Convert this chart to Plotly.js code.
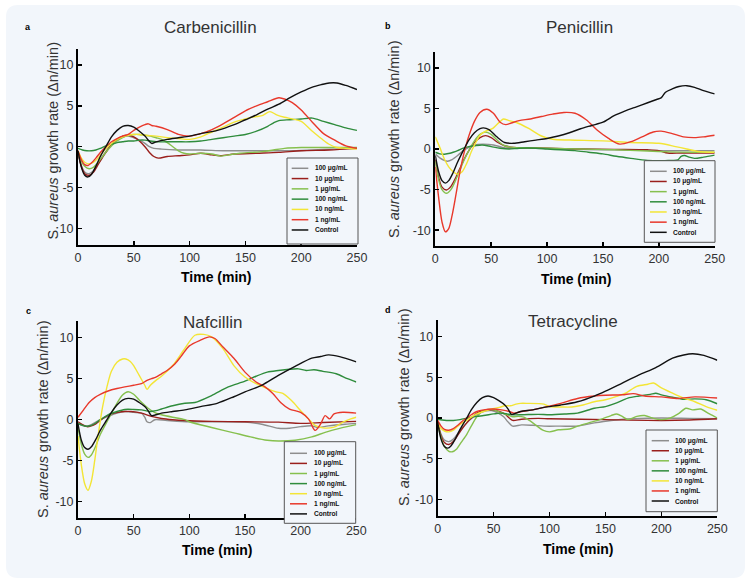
<!DOCTYPE html>
<html><head><meta charset="utf-8">
<script src="https://cdn.plot.ly/plotly-3.0.1.min.js"></script>
<style>html,body{margin:0;padding:0;background:#fff}#chart{width:751px;height:583px}</style>
</head><body><div id="chart"></div>
<script>
// ---------- DATA ----------
const panelTitles = ['Carbenicillin', 'Penicillin', 'Nafcillin', 'Tetracycline'];
const panelLetters = ['a', 'b', 'c', 'd'];
const seriesNames = ['100 μg/mL', '10 μg/mL', '1 μg/mL', '100 ng/mL', '10 ng/mL', '1 ng/mL', 'Control'];
const xTickVals = [0, 50, 100, 150, 200, 250];
const yTickVals = [-10, -5, 0, 5, 10];
const yTickTextA = ['10', '-5', '0', '5', '10'];
const yTickTextStd = ['-10', '-5', '0', '5', '10'];

// Carbenicillin
const carb_ug100_t = [0,3,6,10,14,18,22,26,30,35,40,45,50,55,60,64,68,75,90,110,130,150,170,190,210,230,250];
const carb_ug100_v = [-0.7,-2.3,-3.1,-3.3,-2.9,-2.1,-1.2,-0.4,0.3,0.9,1.2,1.3,1.1,0.8,0.4,0.0,-0.2,-0.3,-0.4,-0.4,-0.5,-0.5,-0.5,-0.5,-0.4,-0.3,-0.2];
const carb_ug10_t = [0,3,6,10,14,18,22,26,30,35,40,45,50,55,60,64,68,72,80,90,100,110,120,128,140,160,180,200,225,250];
const carb_ug10_v = [-0.7,-2.4,-3.3,-3.5,-3.1,-2.2,-1.3,-0.5,0.3,0.9,1.3,1.4,1.2,0.7,0.0,-0.7,-1.2,-1.4,-1.2,-1.1,-1.0,-0.8,-1.0,-1.1,-0.9,-0.8,-0.7,-0.5,-0.4,-0.2];
const carb_ug1_t = [0,3,6,10,14,18,22,26,30,35,40,45,50,55,60,65,70,75,80,85,90,95,100,110,120,128,135,145,155,165,175,185,200,225,250];
const carb_ug1_v = [-0.8,-1.8,-2.4,-2.7,-2.5,-1.9,-1.2,-0.5,0.1,0.7,1.1,1.4,1.5,1.5,1.4,1.3,1.1,0.9,0.5,0.0,-0.5,-0.8,-0.9,-0.8,-0.9,-1.15,-1.0,-0.8,-0.7,-0.6,-0.4,-0.2,-0.1,-0.1,-0.1];
const carb_ng100_t = [0,4,8,12,16,20,25,30,35,40,45,50,55,60,65,70,80,90,100,110,120,130,140,150,160,170,175,180,190,200,210,220,230,240,250];
const carb_ng100_v = [-0.2,-0.4,-0.5,-0.5,-0.4,-0.2,0.1,0.3,0.5,0.6,0.7,0.7,0.8,0.8,0.7,0.6,0.6,0.6,0.6,0.7,0.9,1.1,1.3,1.5,1.9,2.5,2.9,3.2,3.3,3.4,3.5,3.1,2.7,2.3,2.0];
const carb_ng10_t = [0,3,6,10,14,18,22,26,30,35,40,45,50,55,60,70,80,90,100,110,120,130,140,150,160,165,172,178,185,192,200,210,218,225,232,240,250];
const carb_ng10_v = [-0.5,-1.4,-1.9,-2.1,-1.9,-1.4,-0.7,-0.1,0.4,0.9,1.2,1.4,1.5,1.5,1.4,1.3,1.1,1.0,0.9,1.2,1.8,2.4,3.0,3.4,3.7,3.8,4.3,3.9,3.6,3.4,3.1,1.9,1.0,0.3,-0.1,-0.2,-0.3];
const carb_ng1_t = [0,3,6,9,12,16,20,25,30,35,40,45,50,55,60,63,66,70,80,90,100,110,120,130,140,150,160,170,180,186,192,200,210,220,230,240,250];
const carb_ng1_v = [-0.5,-1.6,-2.2,-2.3,-2.0,-1.4,-0.7,0.0,0.6,1.0,1.3,1.5,2.0,2.4,2.7,2.8,2.6,2.5,2.1,1.5,1.3,1.6,2.1,2.8,3.6,4.4,5.0,5.5,6.0,5.8,5.4,4.5,3.0,1.6,0.8,0.1,-0.2];
const carb_ctrl_t = [0,3,6,9,12,16,20,25,30,35,40,45,50,55,60,63,66,70,80,90,100,110,125,140,150,160,170,180,190,200,210,218,225,232,240,250];
const carb_ctrl_v = [-0.5,-2.5,-3.5,-3.7,-3.4,-2.4,-1.2,0.0,1.2,2.0,2.5,2.6,2.4,1.9,1.3,0.8,0.4,0.6,0.9,1.1,1.3,1.6,2.0,2.7,3.3,3.9,4.6,5.2,6.0,6.7,7.3,7.6,7.8,7.8,7.5,7.0];

// Penicillin
const peni_ug100_t = [0,4,8,11,15,20,25,30,35,42,52,60,66,80,95,120,150,180,200,225,250];
const peni_ug100_v = [-0.6,-1.1,-1.4,-1.5,-1.3,-0.8,-0.2,0.2,0.5,0.6,0.5,0.2,0.1,0.1,0.1,0.0,-0.1,-0.1,-0.2,-0.2,-0.2];
const peni_ug10_t = [0,3,6,10,14,18,22,26,30,35,40,45,50,56,62,70,80,100,130,160,190,200,208,220,250];
const peni_ug10_v = [-1.3,-3.5,-4.7,-5.05,-4.6,-3.6,-2.4,-1.2,-0.2,0.8,1.4,1.65,1.4,0.8,0.4,0.2,0.15,0.1,0.0,-0.05,-0.1,-0.2,-0.5,-0.5,-0.5];
const peni_ug1_t = [0,3,6,10,14,18,22,26,30,35,40,45,50,56,62,70,80,100,130,160,190,210,230,250];
const peni_ug1_v = [-1.5,-3.8,-5.0,-5.45,-5.0,-3.9,-2.6,-1.3,-0.2,1.0,1.8,2.1,1.8,1.0,0.4,0.2,0.15,0.1,0.0,-0.1,-0.25,-0.35,-0.4,-0.4];
const peni_ng100_t = [0,4,8,12,16,20,25,30,35,42,50,58,66,75,90,100,112,125,137,150,162,175,190,200,210,217,220,223,227,232,240,250];
const peni_ng100_v = [-0.4,-0.6,-0.65,-0.55,-0.4,-0.2,0.1,0.3,0.4,0.5,0.3,0.1,0.0,0.1,0.1,0.0,-0.1,-0.2,-0.4,-0.6,-0.9,-1.15,-1.4,-1.45,-1.4,-1.35,-0.9,-0.8,-1.0,-1.15,-1.0,-0.75];
const peni_ng10_t = [0,4,8,12,16,20,24,28,33,37,40,45,51,58,61,66,72,84,95,105,120,150,175,200,215,225,235,250];
const peni_ng10_v = [1.5,0.2,-1.2,-2.2,-2.8,-3.1,-2.8,-1.8,-0.1,1.0,1.7,2.2,2.5,3.4,3.7,3.5,3.3,2.5,1.6,1.2,1.1,1.0,0.8,0.7,0.3,0.0,-0.3,-0.4];
const peni_ng1_t = [0,3,6,9,12,15,18,21,24,27,30,35,40,46,52,58,63,68,75,85,95,105,115,125,135,145,155,165,175,185,195,202,212,222,232,240,250];
const peni_ng1_v = [-2.2,-6.0,-9.0,-10.2,-9.8,-8.2,-6.0,-3.6,-1.5,0.2,1.6,3.4,4.5,4.9,4.4,3.3,3.0,3.2,3.5,3.7,4.0,4.3,4.5,4.4,3.6,2.3,1.3,0.6,0.9,1.5,2.1,2.2,1.9,1.5,1.4,1.5,1.7];
const peni_ctrl_t = [0,3,6,9,12,16,20,25,30,35,40,43,48,55,62,70,80,90,100,110,120,130,140,150,160,170,180,190,198,202,206,212,218,225,232,240,250];
const peni_ctrl_v = [-0.8,-2.8,-3.9,-4.2,-3.9,-2.9,-1.6,-0.2,1.1,2.0,2.5,2.6,2.4,1.5,0.8,0.7,0.9,1.1,1.3,1.6,2.0,2.5,2.9,3.3,4.1,4.7,5.2,5.7,6.1,6.3,7.0,7.4,7.7,7.8,7.6,7.2,6.8];

// Nafcillin
const nafc_ug100_t = [0,4,7,12,16,20,27,35,42,50,57,60,62,65,69,80,100,125,150,165,180,190,200,210,215,225,240,250];
const nafc_ug100_v = [-0.45,-0.7,-0.8,-0.6,-0.3,0.0,0.4,0.8,1.0,0.9,0.8,0.3,-0.25,-0.35,0.0,-0.1,-0.25,-0.25,-0.3,-0.55,-1.05,-1.05,-0.85,-0.75,-0.95,-0.75,-0.55,-0.45];
const nafc_ug10_t = [0,4,8,12,16,20,24,30,36,42,48,57,66,75,85,96,120,150,180,200,220,250];
const nafc_ug10_v = [-0.25,-0.6,-0.85,-0.75,-0.5,-0.1,0.3,0.7,0.9,1.0,1.0,0.8,0.4,0.15,0.0,-0.1,-0.2,-0.25,-0.3,-0.45,-0.35,-0.2];
const nafc_ug1_t = [0,3,6,9,12,16,20,27,35,40,45,50,55,63,70,75,85,96,100,120,140,155,170,180,195,210,222,235,250];
const nafc_ug1_v = [-0.9,-3.0,-4.2,-4.6,-4.3,-3.2,-1.8,0.0,2.0,3.0,3.4,3.1,2.4,1.4,0.8,0.6,0.3,0.0,-0.25,-0.95,-1.6,-2.1,-2.5,-2.6,-2.5,-2.1,-1.55,-1.05,-0.6];
const nafc_ng100_t = [0,4,8,12,16,20,27,35,42,50,57,65,70,75,85,96,105,120,135,150,160,170,180,190,198,205,212,220,232,242,250];
const nafc_ng100_v = [-0.45,-0.7,-0.8,-0.7,-0.4,0.0,0.6,1.0,1.25,1.25,1.2,1.0,1.1,1.3,1.7,2.0,2.1,2.95,4.0,4.7,5.3,5.8,6.0,6.15,6.2,6.0,6.1,5.9,5.6,5.0,4.6];
const nafc_ng10_t = [0,3,6,9,12,15,18,22,26,30,35,40,43,47,50,55,60,62,65,70,75,85,95,105,113,120,130,140,150,160,170,178,184,192,200,207,213,220,230,238,245,250];
const nafc_ng10_v = [-2.0,-5.5,-7.8,-8.6,-7.5,-5.0,-2.0,1.5,4.0,5.9,7.0,7.4,7.4,7.1,6.6,5.4,4.2,3.7,4.2,4.8,5.3,6.6,8.5,10.3,10.4,10.1,8.7,6.6,5.2,4.4,3.8,3.4,3.2,2.3,1.1,0.1,-0.7,-1.0,-0.9,-0.3,0.1,0.3];
const nafc_ng1_t = [0,5,10,15,20,27,35,42,50,57,62,66,70,75,80,87,93,100,110,118,123,130,140,150,160,168,175,182,190,200,207,213,218,222,226,230,238,250];
const nafc_ng1_v = [0.3,1.2,2.1,2.7,3.1,3.5,3.8,4.0,4.2,4.4,4.8,5.0,5.2,5.6,6.0,6.8,7.8,9.0,9.7,10.1,9.9,8.9,7.5,5.8,4.6,4.0,3.2,2.1,1.3,0.9,0.1,-1.3,-0.5,0.5,0.1,0.7,0.9,0.8];
const nafc_ctrl_t = [0,3,6,9,12,16,20,26,30,35,40,45,50,55,60,63,66,75,85,96,110,125,140,150,165,180,195,210,218,225,235,250];
const nafc_ctrl_v = [-0.5,-2.5,-3.4,-3.6,-3.3,-2.4,-1.3,0.0,0.9,1.8,2.4,2.6,2.5,2.1,1.6,1.1,0.5,0.8,1.0,1.2,1.6,2.0,2.8,3.4,4.2,5.4,6.5,7.5,7.7,7.9,7.7,7.05];

// Tetracycline
const tetr_ug100_t = [0,3,6,10,14,18,22,26,30,35,41,48,54,59,63,67,75,85,95,110,125,140,155,175,200,225,250];
const tetr_ug100_v = [-0.5,-2.0,-2.7,-2.9,-2.6,-1.9,-1.2,-0.6,-0.1,0.4,0.8,0.9,0.6,0.15,-0.5,-1.0,-0.85,-0.9,-1.0,-1.0,-1.0,-0.6,-0.3,-0.1,0.0,-0.05,-0.1];
const tetr_ug10_t = [0,3,6,10,14,18,22,26,30,35,41,48,55,60,64,67,75,90,100,150,200,225,250];
const tetr_ug10_v = [-0.5,-2.2,-3.0,-3.25,-2.9,-2.1,-1.3,-0.6,0.0,0.6,0.9,1.0,0.8,0.5,0.0,-0.3,-0.15,-0.05,-0.1,-0.2,-0.3,-0.25,-0.1];
const tetr_ug1_t = [0,3,6,10,13,17,21,26,30,35,40,45,50,56,62,67,72,77,82,88,94,100,108,118,125,135,145,155,160,165,170,178,185,192,200,208,215,222,228,235,243,250];
const tetr_ug1_v = [-0.8,-2.4,-3.5,-4.1,-4.15,-3.8,-3.0,-2.0,-1.0,0.15,0.8,1.05,1.0,0.7,0.4,0.15,0.2,0.1,-0.3,-0.9,-1.5,-1.7,-1.45,-1.35,-1.0,-0.6,-0.2,0.3,0.5,0.2,-0.2,0.2,0.3,0.0,-0.2,0.0,0.5,1.2,1.0,1.1,0.5,0.0];
const tetr_ng100_t = [0,4,8,14,20,27,35,41,50,56,62,66,75,90,100,115,125,140,150,160,170,180,190,195,200,210,220,230,240,250];
const tetr_ng100_v = [-0.15,-0.25,-0.3,-0.3,-0.2,0.0,0.2,0.3,0.5,0.6,0.5,0.4,0.4,0.45,0.4,0.5,0.6,1.2,1.4,1.85,2.45,2.7,2.9,3.05,2.85,2.55,2.3,2.35,2.25,1.75];
const tetr_ng10_t = [0,3,6,10,14,18,22,26,30,35,41,48,55,60,65,70,74,80,95,100,110,120,130,140,150,160,168,178,188,193,200,210,220,230,240,250];
const tetr_ng10_v = [-0.6,-1.3,-1.6,-1.7,-1.5,-1.0,-0.6,-0.3,0.1,0.5,0.8,1.1,1.3,1.5,1.5,1.7,1.8,1.8,1.7,1.4,1.35,1.35,1.6,2.0,2.25,2.65,3.05,3.9,4.15,4.3,3.7,3.05,2.45,2.0,1.4,0.95];
const tetr_ng1_t = [0,3,6,10,14,18,22,26,30,35,41,50,57,64,68,75,85,95,110,125,140,150,165,175,185,200,215,230,250];
const tetr_ng1_v = [-0.3,-1.0,-1.4,-1.5,-1.3,-0.9,-0.4,0.0,0.4,0.8,1.0,1.1,1.0,0.8,0.6,0.8,1.0,1.3,1.8,2.4,2.7,2.8,2.85,3.0,2.7,2.6,2.4,2.6,2.45];
const tetr_ctrl_t = [0,3,6,9,12,16,20,26,30,35,40,45,50,55,60,63,66,74,85,95,110,125,140,150,165,180,195,210,220,228,238,250];
const tetr_ctrl_v = [-0.5,-2.6,-3.5,-3.7,-3.4,-2.5,-1.4,0.0,1.0,1.9,2.5,2.7,2.5,2.1,1.6,1.1,0.45,0.8,1.0,1.3,1.6,2.0,2.7,3.3,4.3,5.3,6.2,7.35,7.75,7.9,7.7,7.1];

const panelSeries = [
  [[carb_ug100_t,carb_ug100_v],[carb_ug10_t,carb_ug10_v],[carb_ug1_t,carb_ug1_v],[carb_ng100_t,carb_ng100_v],[carb_ng10_t,carb_ng10_v],[carb_ng1_t,carb_ng1_v],[carb_ctrl_t,carb_ctrl_v]],
  [[peni_ug100_t,peni_ug100_v],[peni_ug10_t,peni_ug10_v],[peni_ug1_t,peni_ug1_v],[peni_ng100_t,peni_ng100_v],[peni_ng10_t,peni_ng10_v],[peni_ng1_t,peni_ng1_v],[peni_ctrl_t,peni_ctrl_v]],
  [[nafc_ug100_t,nafc_ug100_v],[nafc_ug10_t,nafc_ug10_v],[nafc_ug1_t,nafc_ug1_v],[nafc_ng100_t,nafc_ng100_v],[nafc_ng10_t,nafc_ng10_v],[nafc_ng1_t,nafc_ng1_v],[nafc_ctrl_t,nafc_ctrl_v]],
  [[tetr_ug100_t,tetr_ug100_v],[tetr_ug10_t,tetr_ug10_v],[tetr_ug1_t,tetr_ug1_v],[tetr_ng100_t,tetr_ng100_v],[tetr_ng10_t,tetr_ng10_v],[tetr_ng1_t,tetr_ng1_v],[tetr_ctrl_t,tetr_ctrl_v]]
];

// ---------- STYLE / LAYOUT ----------
const colors = ['#8e8e8e', '#9a1f1c', '#86c04e', '#2f8c3c', '#f3e536', '#e8382b', '#111111'];
const W = 751, H = 583;
const px = x => x / W, py = y => 1 - y / H;
const FONT = 'Liberation Sans, Arial, sans-serif';

const geo = [
  {x0:78, x1:357, yT:48.7, yB:244.7, title:[210,28], letter:[28,27], xt:[217,277], yt:[53,141.5],
   leg:{box:[287,158,358,244], r0:168.3, dr:10.28, l0:291.7, l1:308.3, tx:313}},
  {x0:435.3, x1:714.7, yT:51.6, yB:246.4, title:[579,28], letter:[388,26], xt:[576,279], yt:[394,140],
   leg:{box:[644.3,160.7,715,242.3], r0:171.3, dr:10.17, l0:650, l1:666.7, tx:671}},
  {x0:78, x1:356.3, yT:321.3, yB:518.1, title:[213,322], letter:[28,310.7], xt:[217.5,550], yt:[43,420],
   leg:{box:[284.3,441.7,355.7,523.3], r0:453.3, dr:10.1, l0:290, l1:307, tx:312.3}},
  {x0:437.7, x1:717.3, yT:320.4, yB:515.6, title:[573,321], letter:[388,310], xt:[578,549.3], yt:[404,408],
   leg:{box:[646,430,717.3,511.7], r0:440.7, dr:10.05, l0:651.7, l1:669, tx:673.3}}
];

const traces = [];
const layout = {
  width: W, height: H,
  margin: {l:0, r:0, t:0, b:0},
  paper_bgcolor: '#ffffff',
  plot_bgcolor: 'rgba(0,0,0,0)',
  showlegend: false,
  font: {family: FONT, color: '#333'},
  shapes: [], annotations: []
};

// rounded background panel
(function(){
  const x0 = px(6), x1 = px(745), yT = py(5), yB = py(578), rx = 12/W, ry = 12/H;
  layout.shapes.push({type:'path', xref:'paper', yref:'paper', layer:'below',
    path:`M ${x0+rx},${yT} L ${x1-rx},${yT} Q ${x1},${yT} ${x1},${yT-ry} L ${x1},${yB+ry} Q ${x1},${yB} ${x1-rx},${yB} L ${x0+rx},${yB} Q ${x0},${yB} ${x0},${yB+ry} L ${x0},${yT-ry} Q ${x0},${yT} ${x0+rx},${yT} Z`,
    fillcolor:'#f2f6fb', line:{width:0}});
})();

geo.forEach((g, i) => {
  const xa = 'xaxis' + (i === 0 ? '' : i + 1), ya = 'yaxis' + (i === 0 ? '' : i + 1);
  const xr = 'x' + (i === 0 ? '' : i + 1), yr = 'y' + (i === 0 ? '' : i + 1);
  layout[xa] = {domain:[px(g.x0), px(g.x1)], range:[0,250], anchor:yr, tickvals:xTickVals,
    showline:true, linecolor:'#000', linewidth:2, ticks:'inside', ticklen:4, tickwidth:1.5, tickcolor:'#000',
    showgrid:false, zeroline:false, tickfont:{family:FONT, size:12.5, color:'#333'}, fixedrange:true};
  layout[ya] = {domain:[py(g.yB), py(g.yT)], range:[-12,12], anchor:xr, tickvals:yTickVals,
    ticktext: i === 0 ? yTickTextA : yTickTextStd,
    showline:true, linecolor:'#000', linewidth:2, ticks:'inside', ticklen:4, tickwidth:1.5, tickcolor:'#000',
    showgrid:false, zeroline:false, tickfont:{family:FONT, size:12.5, color:'#333'}, fixedrange:true};

  panelSeries[i].forEach((s, j) => {
    traces.push({x:s[0], y:s[1], xaxis:xr, yaxis:yr, type:'scatter', mode:'lines', name:seriesNames[j],
      line:{color:colors[j], width:1.4, shape:'spline', smoothing:0.8}, hoverinfo:'skip'});
  });

  const A = layout.annotations;
  A.push({xref:'paper', yref:'paper', x:px(g.title[0]), y:py(g.title[1]), xanchor:'center', yanchor:'middle',
    text:panelTitles[i], showarrow:false, font:{family:FONT, size:17, color:'#333'}});
  A.push({xref:'paper', yref:'paper', x:px(g.letter[0]), y:py(g.letter[1]), xanchor:'center', yanchor:'middle',
    text:'<b>' + panelLetters[i] + '</b>', showarrow:false, font:{family:FONT, size:9, color:'#000'}});
  A.push({xref:'paper', yref:'paper', x:px(g.xt[0]), y:py(g.xt[1]), xanchor:'center', yanchor:'middle',
    text:'<b>Time (min)</b>', showarrow:false, font:{family:FONT, size:14, color:'#000'}});
  A.push({xref:'paper', yref:'paper', x:px(g.yt[0]), y:py(g.yt[1]), xanchor:'center', yanchor:'middle', textangle:-90,
    text:'S. <i>aureus</i> growth rate (Δn/min)', showarrow:false, font:{family:FONT, size:14.5, color:'#333'}});

  // legend box
  const L = g.leg;
  layout.shapes.push({type:'rect', xref:'paper', yref:'paper', x0:px(L.box[0]), x1:px(L.box[2]), y0:py(L.box[3]), y1:py(L.box[1]),
    line:{color:'#555', width:1}, fillcolor:'#f2f6fb', layer:'above'});
  seriesNames.forEach((nm, j) => {
    const ry = L.r0 + j * L.dr;
    layout.shapes.push({type:'line', xref:'paper', yref:'paper', x0:px(L.l0), x1:px(L.l1), y0:py(ry), y1:py(ry),
      line:{color:colors[j], width:1.5}, layer:'above'});
    A.push({xref:'paper', yref:'paper', x:px(L.tx), y:py(ry), xanchor:'left', yanchor:'middle',
      text:'<b>' + nm + '</b>', showarrow:false, font:{family:FONT, size:6.6, color:'#111'}});
  });
});

Plotly.newPlot('chart', traces, layout, {displayModeBar:false, staticPlot:true});
</script></body></html>
